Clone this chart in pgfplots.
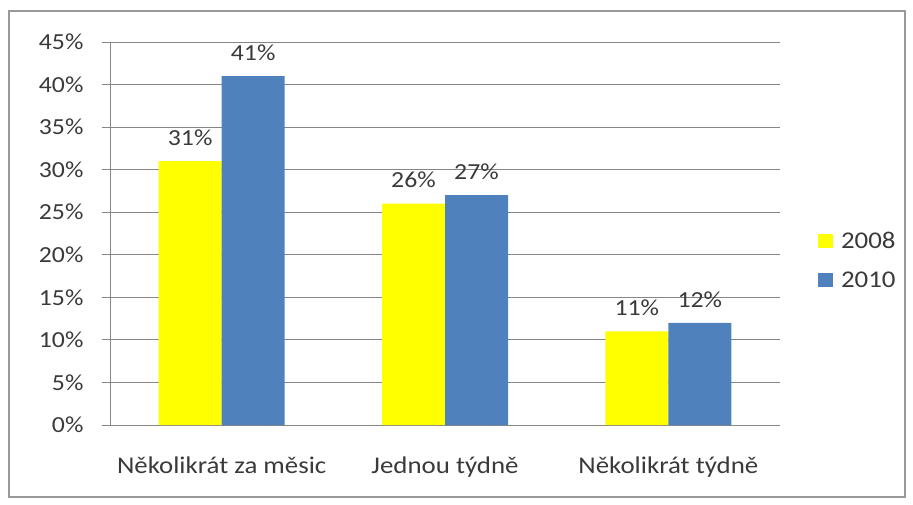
\documentclass[border=0pt]{standalone}
\usepackage{pgfplots}
\pgfplotsset{compat=1.18}
\usepackage{fontspec}
\setmainfont{Carlito}[FakeStretch=1.12]
\definecolor{ybar}{HTML}{FFFF00}
\definecolor{bbar}{HTML}{4F81BD}
\definecolor{gridc}{HTML}{868686}
\definecolor{txt}{HTML}{3A3A3A}
\begin{document}
\begin{tikzpicture}[x=1pt,y=1pt]
\useasboundingbox (0,0) rectangle (913,504);
\draw[gray!80, line width=1.5pt] (9,7) rectangle (905,493);
\begin{axis}[
  at={(110pt,79pt)}, anchor=south west,
  scale only axis, width=670pt, height=383pt,
  xmin=0, xmax=3, ymin=0, ymax=0.45,
  ybar, bar width=63pt,
  xtick={0.5,1.5,2.5},
  xticklabels={Několikrát za měsic, Jednou týdně, Několikrát týdně},
  x tick label style={yshift=-20pt, font=\fontsize{24}{26}\selectfont},
  y tick label style={xshift=-15pt, font=\fontsize{23}{25}\selectfont},
  major x tick style={draw=none},
  extra x ticks={0,1,2,3},
  extra x tick labels={},
  extra x tick style={major tick length=7pt, tick align=outside, tick style={draw=gridc, line width=0.8pt}, grid=none},
  ytick={0,0.05,...,0.45},
  yticklabels={0\%,5\%,10\%,15\%,20\%,25\%,30\%,35\%,40\%,45\%},
  ymajorgrids, grid style={gridc, line width=0.8pt},
  major y tick style={draw=gridc, line width=0.8pt},
  tick align=outside, major tick length=8pt,
  axis x line*=bottom, axis y line*=left,
  axis line style={gridc, line width=0.8pt, -},
  ticklabel style={text=txt},
  /pgf/number format/assume math mode=true,
  nodes near coords={\pgfmathprintnumber[fixed,precision=0]{\pgfplotspointmeta}\%},
  point meta={y*100},
  nodes near coords style={font=\fontsize{23}{25}\selectfont, text=txt, yshift=12pt},
  legend style={at={(1.052,0.43)}, anchor=west, draw=none, fill=none,
    font=\fontsize{24}{26}\selectfont, text=txt, row sep=18pt},
  legend cell align=left,
  legend image code/.code={\fill[#1] (3pt,-7pt) rectangle (18pt,7pt); \path (24pt,0pt);},
]
\addplot[fill=ybar, draw=none, bar shift=-31.5pt] coordinates {(0.5,0.31) (1.5,0.26) (2.5,0.11)};
\addplot[fill=bbar, draw=none, bar shift=31.5pt] coordinates {(0.5,0.41) (1.5,0.27) (2.5,0.12)};
\legend{2008,2010}
\end{axis}
\end{tikzpicture}
\end{document}
